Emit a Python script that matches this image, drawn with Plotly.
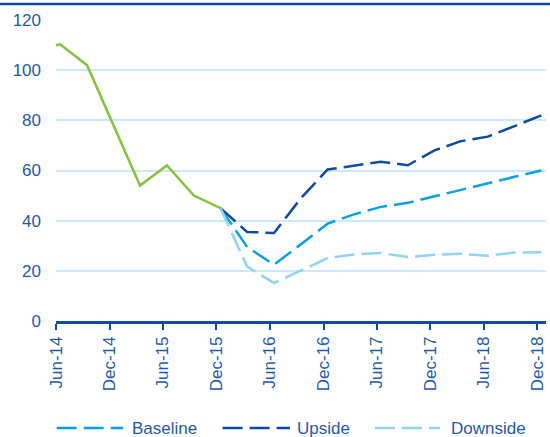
import plotly.graph_objects as go

TEXT = "#1f5aa8"
DARK = "#0d4c9e"

HIST_DATES = ["2014-03-15", "2014-06-15", "2014-09-15", "2014-12-15", "2015-03-15",
              "2015-06-15", "2015-09-15", "2015-12-15"]
HIST_VALUES = [108, 110.3, 102, 78, 54, 62, 50, 45]

SCEN_DATES = ["2015-12-15", "2016-03-15", "2016-06-15", "2016-09-15", "2016-12-15",
              "2017-03-15", "2017-06-15", "2017-09-15", "2017-12-15", "2018-03-15",
              "2018-06-15", "2018-09-15", "2018-12-15"]
BASELINE = [45, 29.5, 22.4, 30.6, 38.8, 42.5, 45.5, 47.1, 49.7, 52.4, 55.1, 57.5, 60]
UPSIDE = [45, 35.5, 35.1, 49, 60.4, 62, 63.5, 62.1, 68, 71.7, 73.5, 77.7, 82]
DOWNSIDE = [45, 21.7, 15.1, 20, 25.1, 26.5, 27.1, 25.5, 26.4, 26.8, 26, 27.3, 27.4]

SCENARIOS = [
    ("Baseline", BASELINE, "#0aa0e0"),
    ("Upside", UPSIDE, DARK),
    ("Downside", DOWNSIDE, "#92d3f3"),
]
DASH = "20px,7px"

fig = go.Figure()
fig.add_scatter(x=HIST_DATES, y=HIST_VALUES, mode="lines",
                line=dict(color="#84c241", width=2.5), showlegend=False)
for name, vals, color in SCENARIOS:
    fig.add_scatter(x=SCEN_DATES, y=vals, mode="lines", name=name,
                    line=dict(color=color, width=2.5, dash=DASH), showlegend=False)

# hand-made legend so the line samples are as long as in the original
legend_pos = [(0.0014, 0.137, 0.151), (0.340, 0.4776, 0.488), (0.651, 0.784, 0.802)]
for (name, _, color), (x0, x1, xt) in zip(SCENARIOS, legend_pos):
    fig.add_shape(type="line", xref="paper", yref="paper", x0=x0, x1=x1, y0=-0.3555, y1=-0.3555,
                  line=dict(color=color, width=2.5, dash=DASH))
    fig.add_annotation(text=name, xref="paper", yref="paper", x=xt, y=-0.3555,
                       xanchor="left", yanchor="middle", showarrow=False,
                       font=dict(size=17, color=TEXT))

# top rule
fig.add_shape(type="line", xref="paper", yref="paper", x0=-0.12, x1=1.02, y0=1.0532, y1=1.0532,
              line=dict(color=DARK, width=2.5))

fig.update_layout(
    width=550, height=437,
    margin=dict(l=56, r=4, t=20, b=116),
    paper_bgcolor="white", plot_bgcolor="white",
    font=dict(family="Arial, Liberation Sans, sans-serif", size=17, color=TEXT),
)
fig.update_xaxes(
    type="date", range=["2014-06-01", "2018-12-31"],
    tick0="2014-06-01", dtick="M6", tickformat="%b-%y", tickangle=-90,
    showgrid=False, showline=True, linecolor=DARK, linewidth=2.5,
    ticks="outside", ticklen=6, tickwidth=2, tickcolor=DARK,
)
fig.update_yaxes(
    range=[0, 120], dtick=20, showgrid=True, gridcolor="#cbe9f7", gridwidth=1.5,
    zeroline=False, ticks="", ticklabelstandoff=14,
)

# drop the browser's default page margin so the figure sits at the window corner
fig.write_html("out.html", config={"displayModeBar": False},
               post_script="document.body.style.margin='0px';")
